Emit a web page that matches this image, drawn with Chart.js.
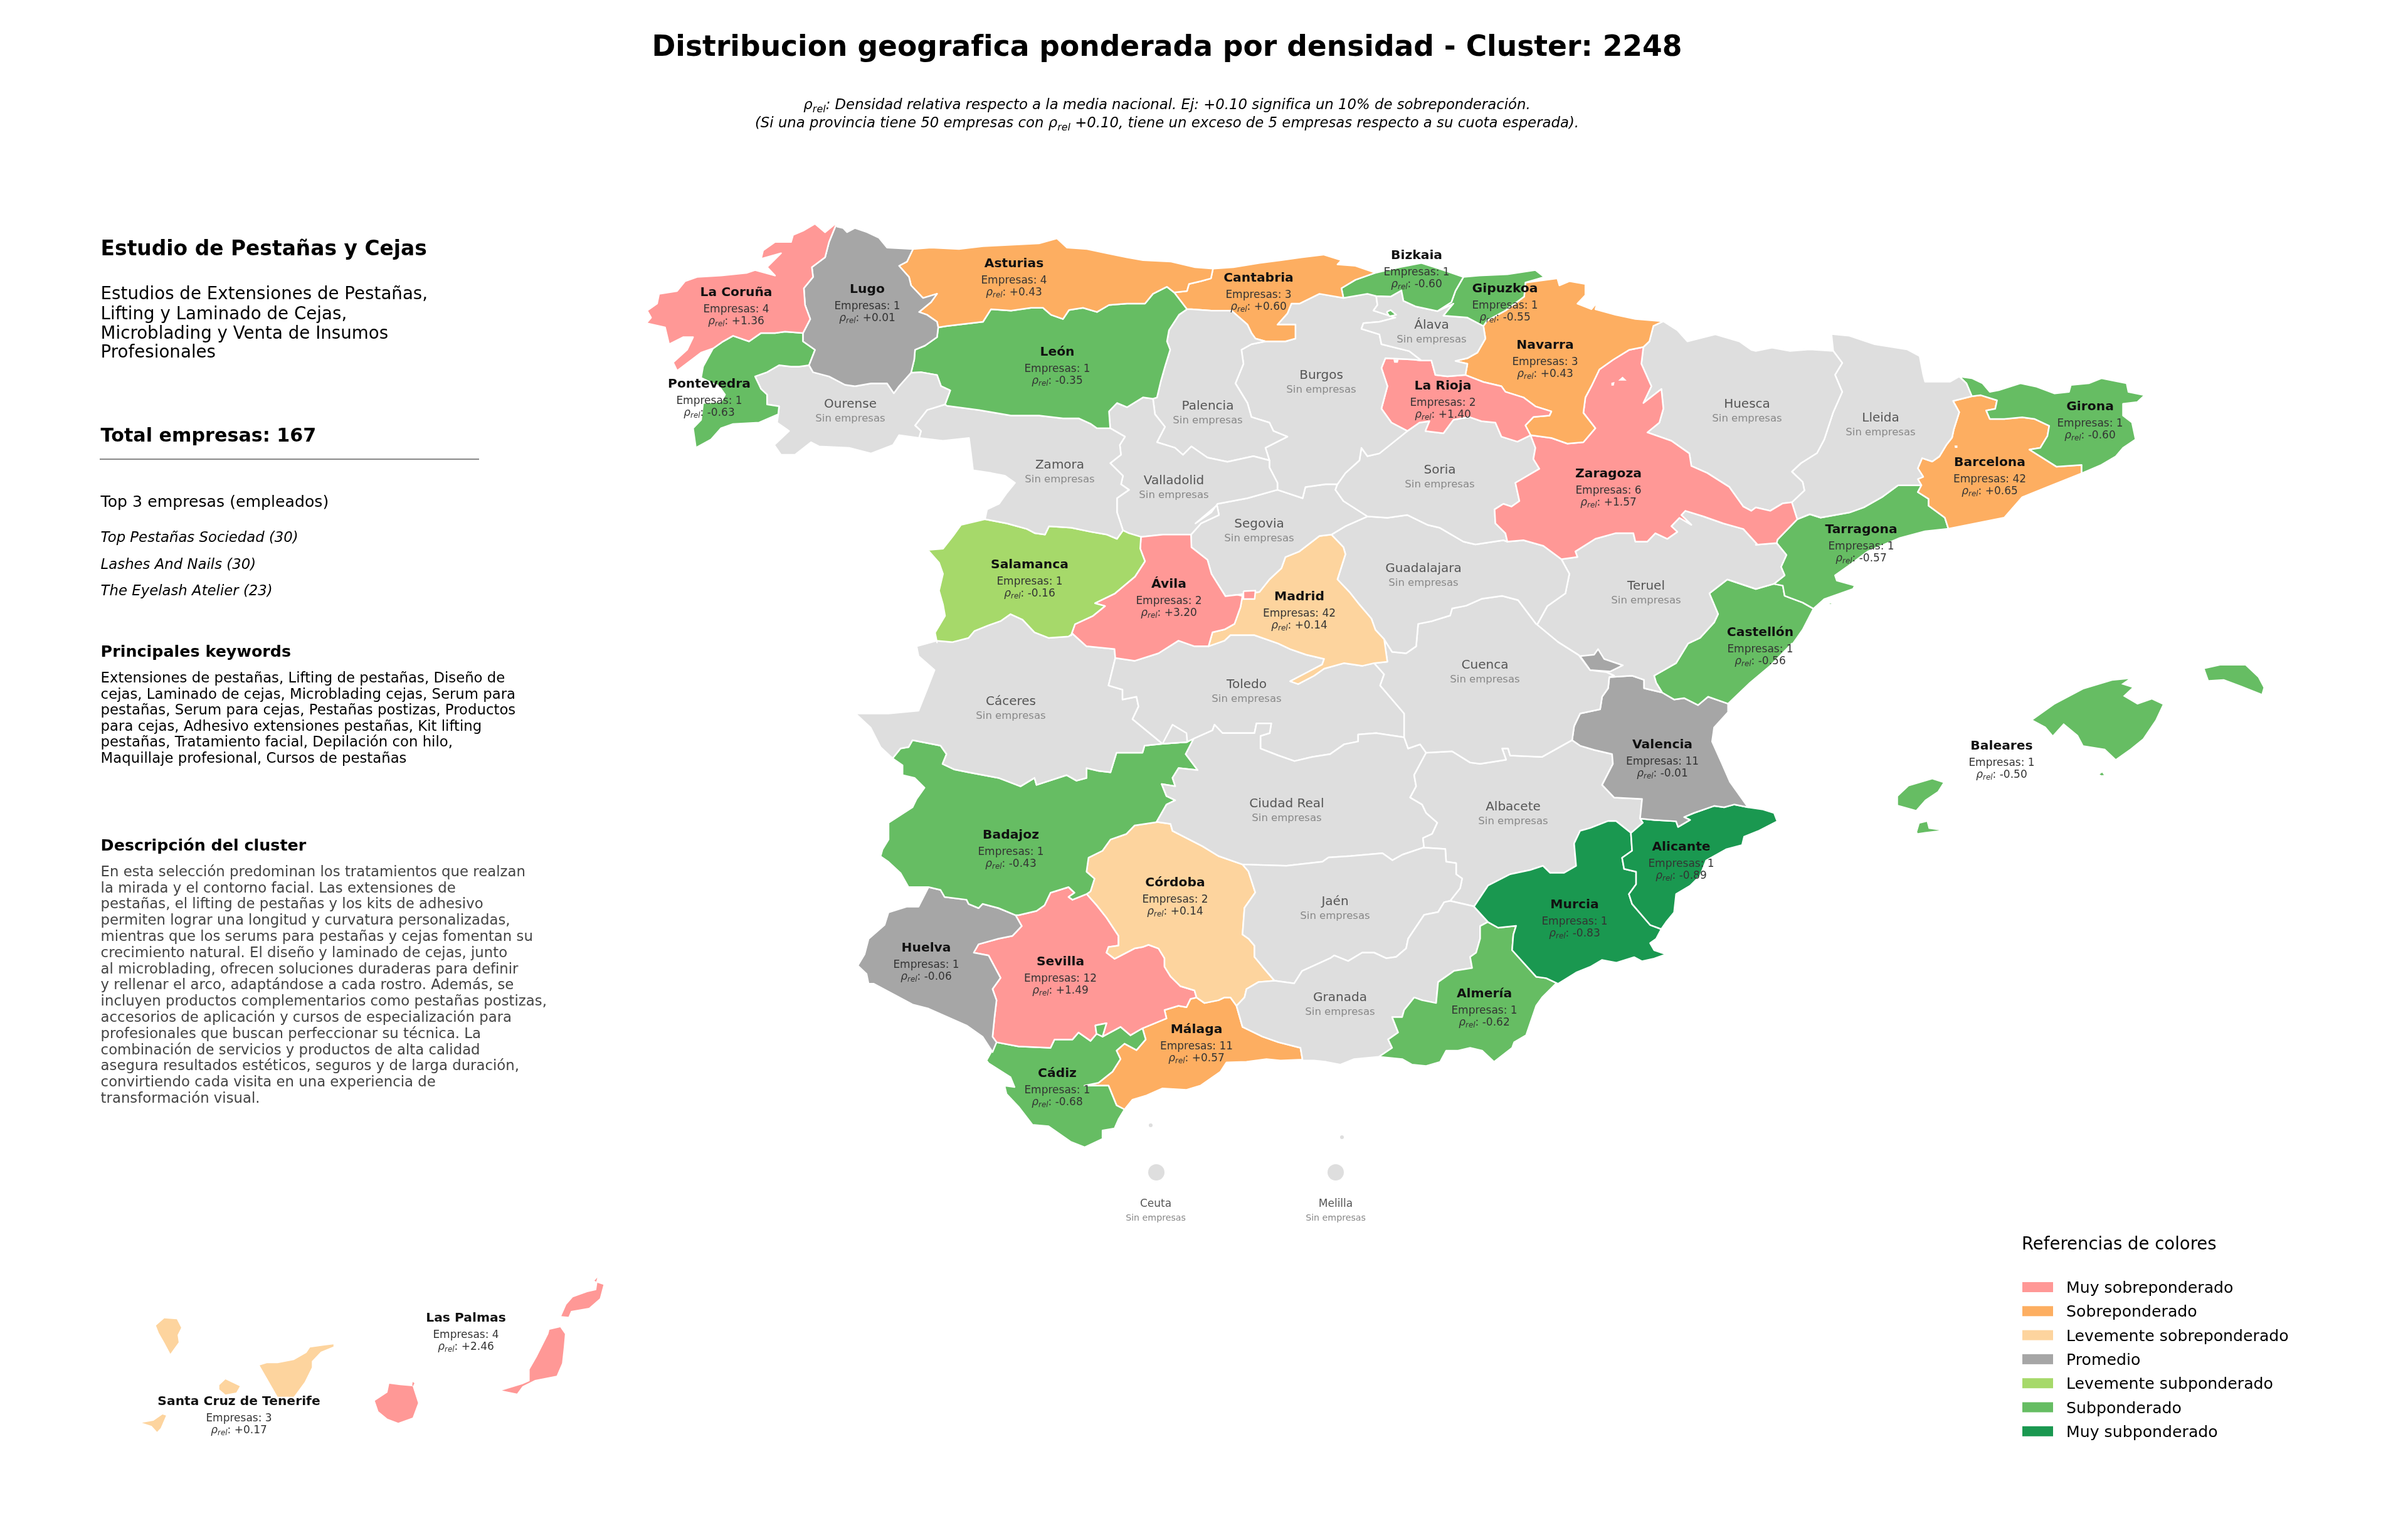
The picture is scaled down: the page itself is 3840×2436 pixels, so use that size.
<!DOCTYPE html>
<html lang="es"><head><meta charset="utf-8"><title>Distribucion geografica</title>
<style>html,body{margin:0;padding:0;background:#fff}canvas{display:block}</style>
<script src="https://cdn.jsdelivr.net/npm/chart.js@4/dist/chart.umd.js"></script></head>
<body><canvas id="map" width="3840" height="2436"></canvas>
<script>
// ---------- chart values ----------
const provinceNames=["La Coruña","Lugo","Asturias","León","Pontevedra","Cantabria","Bizkaia","Gipuzkoa","Navarra","La Rioja","Zaragoza","Girona","Barcelona","Tarragona","Castellón","Valencia","Alicante","Murcia","Almería","Baleares","Salamanca","Ávila","Madrid","Badajoz","Córdoba","Huelva","Sevilla","Málaga","Cádiz","Las Palmas","Santa Cruz de Tenerife"];
const provinceEmpresas=[4,1,4,1,1,3,1,1,3,2,6,1,42,1,1,11,1,1,1,1,1,2,42,1,2,1,12,11,1,4,3];
const provinceRho=["+1.36","+0.01","+0.43","-0.35","-0.63","+0.60","-0.60","-0.55","+0.43","+1.40","+1.57","-0.60","+0.65","-0.57","-0.56","-0.01","-0.89","-0.83","-0.62","-0.50","-0.16","+3.20","+0.14","-0.43","+0.14","-0.06","+1.49","+0.57","-0.68","+2.46","+0.17"];
const provinceClass=[0,3,1,5,5,1,5,5,1,0,0,5,1,5,5,3,6,6,5,5,4,0,2,5,2,3,0,1,5,0,2];
const emptyNames=["Ourense","Palencia","Zamora","Valladolid","Segovia","Álava","Burgos","Soria","Huesca","Lleida","Guadalajara","Teruel","Cáceres","Toledo","Cuenca","Ciudad Real","Albacete","Jaén","Granada","Ceuta","Melilla"];
const legendLabels=["Muy sobreponderado","Sobreponderado","Levemente sobreponderado","Promedio","Levemente subponderado","Subponderado","Muy subponderado"];
const legendColors=["#ff9896","#fdae61","#fdd49e","#a6a6a6","#a6d96a","#66bd63","#1a9850"];
const emptyColor="#dedede";
const titleText="Distribucion geografica ponderada por densidad - Cluster: 2248";
const panelTitle="Estudio de Pestañas y Cejas";
const panelSubtitle=["Estudios de Extensiones de Pestañas,","Lifting y Laminado de Cejas,","Microblading y Venta de Insumos","Profesionales"];
const panelTotal="Total empresas: 167";
const panelTopHead="Top 3 empresas (empleados)";
const panelTop=["Top Pestañas Sociedad (30)","Lashes And Nails (30)","The Eyelash Atelier (23)"];
const keywordsHead="Principales keywords";
const keywordsLines=["Extensiones de pestañas, Lifting de pestañas, Diseño de","cejas, Laminado de cejas, Microblading cejas, Serum para","pestañas, Serum para cejas, Pestañas postizas, Productos","para cejas, Adhesivo extensiones pestañas, Kit lifting","pestañas, Tratamiento facial, Depilación con hilo,","Maquillaje profesional, Cursos de pestañas"];
const descHead="Descripción del cluster";
const descLines=["En esta selección predominan los tratamientos que realzan","la mirada y el contorno facial. Las extensiones de","pestañas, el lifting de pestañas y los kits de adhesivo","permiten lograr una longitud y curvatura personalizadas,","mientras que los serums para pestañas y cejas fomentan su","crecimiento natural. El diseño y laminado de cejas, junto","al microblading, ofrecen soluciones duraderas para definir","y rellenar el arco, adaptándose a cada rostro. Además, se","incluyen productos complementarios como pestañas postizas,","accesorios de aplicación y cursos de especialización para","profesionales que buscan perfeccionar su técnica. La","combinación de servicios y productos de alta calidad","asegura resultados estéticos, seguros y de larga duración,","convirtiendo cada visita en una experiencia de","transformación visual."];

const sheet=(ox,oy,sx,sy)=>f=>{const o=[];for(let i=0;i<f.length;i+=2)o.push([ox+f[i]/sx,oy+f[i+1]/sy]);return o;};
const S1=sheet(1000,330,1.568,2.24),S2=sheet(1900,330,1.568,2.24),S3=sheet(2800,500,1.742,1.845),S4=sheet(1350,950,1.568,2.24),S5=sheet(2000,950,1.568,2.24),S6=sheet(1350,1300,1.568,2.24),S7=sheet(2000,1300,1.568,2.24),S8=sheet(150,2000,1.742,3);
const A={
corCoast:S1([525,55,495,90,470,60,440,85,415,100,410,125,370,125,340,155,335,185,385,165,350,215,370,245,320,225,300,235,235,245,175,250,145,265,125,300,80,310,75,345,50,370,60,395,48,415,95,430,105,490,140,465,165,465,150,510,115,555,125,585,185,520,215,505]),
corPon:S1([215,505,240,480,265,460,305,480,335,450,370,450,395,445,440,450]),
corLug:S1([440,450,458,400,445,350,442,290,465,250,462,215,495,180,505,125,525,55]),
lugCoast:S1([525,55,525,70,540,75,550,90,570,75,600,90,630,110,650,145,715,150]),
lugAst:S1([715,150,700,195,680,210,705,250,710,280,740,325,775,310,760,340,730,375,750,385,775,410,778,430]),
lugLeo:S1([778,430,775,465,745,495,720,510,718,545,710,592]),
lugOur:S1([710,592,680,640,667,665,650,630,610,630,570,640,545,635,505,605,465,590,455,565]),
lugPon:S1([455,565,470,510,440,480,440,450]),
ponOur:S1([455,565,430,570,410,570,380,565,350,590,320,605,335,650,350,670,350,705,380,712,378,740]),
ponCoast:S1([378,740,330,770,265,775,235,790,210,830,172,860,165,790,185,760,190,700,235,695,245,670,230,640,185,610,190,570,215,505]),
ourLeo:S1([710,592,735,590,775,600,785,640,808,655,795,705]),
ourZam:S1([795,705,750,725,720,780,735,800,730,825]),
ourSouth:S1([730,825,680,815,665,850,610,880,555,860,480,855,460,840,420,885,385,885,368,850,405,800,375,770,378,740]),
astCoast:S1([715,150,760,145,830,150,890,140,960,135,1030,130,1075,112,1100,145,1150,150,1200,165,1250,180,1290,190,1360,195,1420,215,1465,220]),
astCan:S1([1465,220,1460,255,1435,265,1405,275,1400,300,1368,305]),
astLeo:S1([1368,305,1350,285,1315,310,1295,345,1250,345,1205,350,1175,375,1140,360,1105,368,1090,400,1060,385,1040,360,1010,360,960,370,910,365,890,410,830,420,800,425,778,430]),
leoCan:S1([1368,305,1400,365]),
leoPal:S1([1400,365,1380,385,1355,440,1350,480,1358,510,1345,570,1335,620,1325,680,1315,685]),
leoVal:S1([1315,685,1290,680,1250,715,1225,700,1205,730,1208,790]),
leoZam:S1([1208,790,1175,790,1160,775,1130,755,1090,755,1030,745,960,745,880,725,800,710,795,705]),
zamPort:S1([730,825,790,835,855,825,860,880,865,940,910,950,945,960,970,985,950,1020,930,1060,900,1080,895,1115]),
zamSal:S1([895,1115,950,1130,1000,1150,1020,1165,1045,1170,1055,1140,1110,1145,1160,1160,1200,1170,1225,1185,1240,1155]),
zamVal:S1([1208,790,1245,820,1232,850,1235,885,1208,915,1240,960,1235,990,1255,1010,1225,1040,1225,1090,1240,1155]),
salVal:S1([1240,1155,1255,1165,1285,1178]),
salAvi:S1([1285,1178,1283,1220,1295,1265,1270,1320,1220,1380,1170,1415,1195,1425,1165,1460,1120,1490,1110,1530]),
salCac:S4([565,135,555,145,505,150,470,130,440,85,410,65,385,90,355,105,320,125,305,150,265,165,225,160]),
zsPort:S1([895,1115,835,1135,815,1175,790,1220,752,1225,780,1270,790,1310,780,1370,790,1420,795,1460,770,1520,775,1555]),
aviVal:S1([1285,1178,1340,1170,1410,1170]),
aviSeg:S2([0,1215,40,1260,50,1310,85,1390,115,1385]),
aviMad:[...S2([115,1385]),...S4([990,0,985,40,970,100,945,120,915,130,905,180])],
aviTol:S4([905,180,870,180,830,160,780,205,720,232,672,222]),
aviCac:S4([672,222,670,190,600,180,565,135]),
valPal:[...S1([1315,685,1320,740,1345,785,1325,840,1370,860,1390,885]),...S2([0,855,40,895,90,910,155,890,195,905])],
valBur:S2([195,905,195,930,215,985,215,1010]),
valSeg:[...S2([215,1010,140,1040,65,1060,50,1090,10,1130]),...S1([1475,1065,1480,1100,1435,1130,1410,1170])],
palCan:[...S1([1400,365]),...S2([0,365,50,370,100,370,140,420,150,450,160,470,185,480])],
palBur:S2([185,480,150,490,125,510,130,560,110,630,140,700,150,750,195,770,205,800,240,820,185,860,195,905]),
canCoast:S2([55,220,105,215,170,200,225,190,275,180,330,170,375,190,365,205,410,210,460,235]),
canBiz:S2([460,235,410,260,375,290,380,325]),
canBur:S2([380,325,320,310,270,345,250,345,240,380,215,420,260,420,260,470,235,480,185,480]),
bizCoast:S2([460,235,520,215,575,200,630,225,680,250]),
bizGip:S2([680,250,660,300,650,340,615,372]),
bizAla:S2([615,372,560,355,530,335,525,298,498,320,462,318]),
bizBur:S2([462,318,440,310,380,325]),
gipCoast:S2([680,250,720,245,790,240,860,225,882,250,835,270]),
gipNav:S2([835,270,832,320,785,370,740,405,730,425]),
gipAla:S2([730,425,690,395,630,388,655,345,615,372]),
alaNav:S2([730,425,735,470,715,520,690,540,660,550,690,560,685,600]),
alaRio:S2([685,600,640,605,610,600,600,548,575,548]),
alaBur:S2([575,548,545,515,475,490,470,455,425,435,430,415,470,410,510,395,455,370,465,350,462,318]),
burRio:S2([575,548,555,545,485,540,475,575,490,640,475,720,500,770,540,800]),
burSor:S2([540,800,470,880,440,890,425,860,420,905,385,950,365,990]),
burSeg:S2([365,990,335,990,285,1000,278,1040,215,1010]),
rioSor:S2([540,800,570,770,595,765,585,800,630,808,655,760,695,750,725,765,760,770,775,820,815,838,848,815]),
rioNav:S2([685,600,730,625,775,640,785,660,830,680,860,712,900,730,895,745,855,750,835,780,848,815]),
navCoast:S2([835,270,915,255,920,280,945,265,985,275,985,315,965,345,1000,365,1015,340,1010,365,1060,385,1110,400,1180,408]),
navHue:S2([1180,408,1155,425,1145,480,1130,500]),
navZar:S2([848,815,900,825,940,845,980,840,1010,790,980,735,985,680,1000,640,1020,580,1055,545,1095,510,1130,500]),
zarHue:[...S2([1130,500,1125,560,1150,640,1130,700,1175,650,1180,720,1170,770,1140,805,1200,835,1245,880,1250,925,1290,950,1345,1000,1380,1070,1400,1085]),...S3([0,570,40,580,75,558,100,555])],
zarLle:S3([100,555,115,605]),
zarTar:S3([115,605,60,665,58,675]),
zarTer:[...S3([58,675,0,680]),...S2([1415,1205,1380,1150,1330,1130,1280,1105,1235,1085,1225,1100,1250,1135,1220,1110,1200,1140,1215,1160,1190,1185,1160,1165,1140,1195,1110,1195,1105,1165,1060,1165,1010,1185,960,1230,965,1250,925,1258])],
zarGua:S2([925,1258,880,1210,830,1190,790,1195]),
zarSor:S2([790,1195,785,1165,760,1130,758,1080,780,1060,800,1070,820,1050,810,985,870,935,855,900,860,860,848,815]),
sorSeg:S2([365,990,360,1010,380,1050,440,1105]),
sorGua:S2([440,1105,490,1110,540,1100,590,1135,620,1145,680,1195,710,1205,780,1190,790,1195]),
segMad:S2([115,1385,170,1375,195,1330,225,1290,235,1250,270,1230,320,1175,350,1170]),
segGua:S2([350,1170,385,1140,440,1105]),
madGua:[...S2([350,1170,380,1215,385,1240,365,1330,395,1375,420,1420,450,1470,460,1510]),...S5([325,155])],
madCue:S5([325,155,333,235,300,240]),
madTol:[...S5([300,240,270,250,225,240,175,260,150,285,110,315,90,305,130,275,170,245,175,225,130,210,90,190,60,170,0,140]),...S4([960,140,945,160,905,180])],
guaCue:S5([325,155,345,200,380,205,405,180,410,100,445,90,490,70,495,45,530,35,570,10,620,0,660,15,705,100]),
guaTer:[...S2([925,1258,945,1310,935,1380,890,1425,865,1490])],
cueTer:S5([705,100,760,165,812,212,840,265,880,272,900,285,888,290]),
cueVal:S5([888,290,885,330,870,360,865,405,815,420,800,465,795,515]),
cueAlb:S5([795,515,720,575,640,570,635,545,620,545,630,585,565,600,540,595,495,555,430,560]),
cueCR:S5([430,560,415,530,385,545,375,505]),
cueTol:S5([375,505,375,420,315,320,325,280,300,240]),
terVal:S5([888,290,945,285,975,300,975,330,1020,345]),
terCas:[...S5([1020,345,1005,310,1000,285,1055,240,1085,170,1115,150,1150,95,1160,65]),...S2([1295,1380,1340,1330]),...S3([0,810,50,795])],
terTar:S3([50,795,80,770,70,745,85,710,58,675]),
hueCoast:[...S2([1180,408,1215,440,1240,480,1310,455,1370,480,1400,510]),...S3([0,110,45,100,95,110,150,105,215,110])],
hueLle:S3([215,110,240,145,220,180,240,230,215,290,190,370,170,410,125,440,100,465,130,495,135,520,100,555]),
lleCoast:S3([215,110,210,60,260,65,330,90,420,105,455,125,465,180,470,200,540,200,565,185]),
lleGir:S3([565,185,585,205,600,243]),
lleBar:S3([600,243,548,257,565,290,550,340,545,365,530,385,510,420,490,435,462,425,450,455,465,480,450,487,460,505]),
lleTar:S3([460,505,395,505,350,540,300,570,260,585,180,600,150,590,115,605]),
girOut:S3([565,185,600,190,630,205,650,230,675,225,735,205,780,215,830,235,870,230,875,210,925,205,960,190,1030,205,1035,230,1080,240,1060,260,1020,265,1020,300,1045,320,1055,370,1020,395,1000,420,960,445,905,470]),
girBar:S3([905,470,905,445,835,450,790,420,760,400,790,395,810,360,815,330,775,310,740,305,690,310,650,310,640,285,665,280,670,255,625,240,600,243]),
barCoast:S3([535,633,690,600,740,540,810,510,905,470]),
barTar:S3([460,505,450,525,480,545,480,565,525,600,535,633]),
tarCoast:S3([160,868,190,840,270,810,275,800,225,785,220,770,260,740,310,700,400,660,470,640,535,633]),
tarCas:S3([50,795,75,800,80,830,130,850,160,868]),
casCoast:[...S3([160,868,130,930,100,975]),...S5([1345,170,1290,250,1240,310,1185,385])],
casVal:S5([1020,345,1050,370,1075,365,1110,390,1135,360,1185,385]),
valCoast:S5([1185,385,1185,415,1150,470,1145,520,1170,600,1190,665,1235,755]),
valAli:S5([965,795,1000,800,1055,805,1060,825,1090,800,1075,790,1100,775,1150,750,1175,755,1200,745,1235,755]),
valAlb:S5([795,515,815,535,850,550,895,565,897,600,870,675,900,720,970,725,965,795]),
aliCoast:S5([1235,755,1270,762,1300,775,1308,805,1260,840,1225,860,1220,890,1180,905,1130,945,1115,1000,1090,1035,1055,1065,1050,1130,1030,1165,1018,1190]),
aliMur:S5([942,847,945,910,920,935,925,975,955,985,955,1030,937,1065,945,1100,990,1175,1018,1190]),
aliAlb:S5([942,847,972,810,965,795]),
murCoast:S5([1018,1190,1005,1225,990,1240,1000,1265,1030,1280,1000,1295,970,1305,950,1290,905,1310,870,1300,840,1325,805,1345,760,1385]),
murAlm:S5([585,1165,610,1185,655,1178,648,1210,645,1265,705,1360,730,1365,760,1385]),
murGra:S5([550,1110,585,1165]),
murAlb:S7([550,325,585,250,640,210,690,195,722,180,740,205,775,205,805,180,800,100,815,55,840,45,885,20,905,20,940,60,942,62]),
almCoast:S7([755,600,720,650,705,680,680,785,650,810,645,830,600,880,570,840,540,830,510,840,480,840,465,880,430,895,395,890,370,870,312,862]),
almGra:S7([585,380,565,395,565,440,555,490,540,505,545,545,500,555,460,595,455,670,420,660,400,650,375,695,370,720,345,720,360,775,335,800,345,830,312,862]),
graCoast:S7([312,862,250,870,215,890,180,880,150,875,122,875]),
graMal:S6([975,680,990,755,1040,790,1080,810,1135,830,1140,872]),
graCor:S6([975,680,995,650,1000,620,1030,595,1070,590]),
graJae:[...S7([51,590,100,600,120,555,190,510,200,500,235,520,270,490,300,490,330,510,355,505,380,475,385,440,425,355,460,345,475,310,490,305])],
graAlb:S7([490,305,550,325]),
jaeAlb:S7([423,115,478,120,480,165,505,170,505,210,520,225,515,260,490,305]),
jaeCR:S6([990,175,1100,180,1190,165,1205,150,1260,145,1300,140,1340,135,1365,160,1390,140,1442,115]),
jaeCor:S6([1070,590,1040,540,1020,505,1020,465,1005,440,990,425,995,330,1022,275,1005,200,990,175]),
albCR:S5([430,560,400,640,405,680,390,720,420,745,430,775,458,810,445,850,422,865,425,900]),
crTol:[...S4([868,510,915,480,920,460,940,490,1020,490,1025,455,1062,455,1058,490,1035,500,1035,545,1080,570,1120,590]),...S5([145,575,190,565,225,530,260,520,260,495,305,490,375,505])],
crBad:S4([868,510,848,565,878,622,830,615,815,650,822,680,788,672,800,715,822,730,800,745,775,808]),
crCor:S6([990,175,930,145,890,110,815,55,810,30,775,23]),
tolCac:S4([672,222,655,320,690,335,690,370,725,360,730,395,715,440,790,528]),
tolBad:S4([790,528,850,522,868,510]),
cacPort:S4([225,160,175,180,180,215,220,265,205,320,180,410,105,420,22,420,60,470,85,540,115,580]),
cacBad:S4([115,580,135,545,155,540,165,515,235,535,250,565,240,600,270,620,305,630,380,650,435,680,470,650,475,675,550,640,575,660,600,650,600,615,630,625,660,630,675,560,740,560,745,535,790,528]),
badPort:S4([115,580,140,605,140,640,170,650,195,685,175,725,165,755,105,810,105,870,90,905,85,930,105,950,135,990,155,1040,205,1040]),
badHue:S4([205,1040,235,1050,245,1075,300,1085,305,1100,330,1115,340,1100,380,1115,422,1140]),
badSev:S4([422,1140,430,1140,475,1125,495,1105,510,1060,555,1040,570,1060,555,1075,565,1085,600,1065]),
badCor:S4([600,1065,610,1055,620,1010,600,985,605,935,640,910,660,870,700,850,720,820,775,808]),
corSev:S6([600,280,625,320,650,365,680,430,680,465,655,470,650,490,670,512,720,475,740,470,755,462,780,475,795,510,795,540,810,575,835,610,870,625,875,650]),
corMal:S6([875,650,895,670,930,660,945,650,960,650,975,680]),
hueCoastal:[...S4([205,1040,180,1110,150,1110,105,1130,95,1175,55,1225,45,1280,28,1320,50,1350,55,1385,68,1385]),...S6([165,675,205,690,300,750,340,790,365,845,375,810])],
hueSev:S6([422,355,438,395,415,430,380,440,330,460,318,490,355,500,385,580,365,620,375,660,370,720,365,790,375,810]),
sevCad:S6([375,810,430,825,510,830,520,800,565,800,580,775,610,805,625,780,622,750,650,742,640,790,685,755,710,785,740,760]),
sevMal:S6([740,760,800,725,795,695,830,680,850,685,860,655,875,650]),
cadMal:S6([740,760,748,800,725,838,695,815,675,840,685,870,665,915,630,955,595,965,630,965,655,965,675,1035,695,1050]),
cadCoast:S6([695,1050,680,1085,670,1118,640,1125,640,1155,595,1185,560,1165,505,1110,465,1105,430,1040,400,995,395,965,420,970,410,935,355,885,350,875,375,810]),
malCoast:S6([1140,872,1085,875,1050,870,1000,880,950,882,935,915,885,965,850,980,790,975,750,1000,715,1015,695,1050]),
};
const ringOf=s=>s.split(" ").flatMap(k=>k[0]==="-"?[...A[k.slice(1)]].reverse():A[k]);
const provinceRings={
"La Coruña":["corCoast corPon corLug"],
"Lugo":["lugCoast lugAst lugLeo lugOur lugPon corLug"],
"Pontevedra":["ponOur ponCoast corPon -lugPon"],
"Ourense":["-lugOur ourLeo ourZam ourSouth -ponOur"],
"Asturias":["astCoast astCan astLeo -lugAst"],
"León":["leoCan leoPal leoVal leoZam -ourLeo -lugLeo -astLeo"],
"Zamora":["ourZam zamPort zamSal -zamVal leoZam"],
"Salamanca":["zamSal salVal salAvi salCac -zsPort"],
"Ávila":["aviVal aviSeg aviMad aviTol aviCac -salAvi"],
"Valladolid":["-leoVal valPal valBur valSeg -aviVal -salVal -zamVal"],
"Palencia":["palCan palBur -valPal -leoPal"],
"Cantabria":["canCoast canBiz canBur -palCan -leoCan -astCan"],
"Bizkaia":["bizCoast bizGip bizAla bizBur -canBiz"],
"Gipuzkoa":["gipCoast gipNav gipAla -bizGip"],
"Álava":["alaNav alaRio alaBur -bizAla -gipAla"],
"Burgos":["canBur palBur valBur -burSeg -burSor -burRio alaBur bizBur"],
"La Rioja":["-alaRio rioNav -rioSor -burRio"],
"Navarra":["navCoast navHue -navZar -rioNav -alaNav -gipNav"],
"Zaragoza":["navZar zarHue zarLle zarTar zarTer zarGua zarSor"],
"Soria":["burSor sorSeg sorGua zarSor -rioSor"],
"Segovia":["valSeg aviSeg segMad segGua -sorSeg burSeg"],
"Madrid":["segMad madGua madCue madTol -aviMad"],
"Guadalajara":["madGua guaCue -guaTer zarGua -sorGua -segGua"],
"Cuenca":["guaCue cueTer cueVal cueAlb cueCR cueTol -madCue"],
"Teruel":["guaTer cueTer terVal terCas terTar zarTer"],
"Huesca":["hueCoast hueLle -zarHue -navHue"],
"Lleida":["lleCoast lleGir lleBar lleTar -zarLle -hueLle"],
"Girona":["girOut girBar -lleGir"],
"Barcelona":["lleBar barTar barCoast girBar"],
"Tarragona":["zarTar -terTar tarCas tarCoast -barTar lleTar"],
"Castellón":["terCas tarCas casCoast -casVal"],
"Valencia":["cueVal valAlb valAli -valCoast -casVal -terVal"],
"Alicante":["aliAlb valAli aliCoast -aliMur"],
"Murcia":["murAlb aliMur murCoast -murAlm -murGra"],
"Almería":["murAlm almCoast -almGra"],
"Granada":["graJae graAlb murGra almGra graCoast -graMal graCor"],
"Jaén":["jaeCor jaeCR jaeAlb -graJae"],
"Albacete":["valAlb -aliAlb -murAlb -graAlb -jaeAlb -albCR -cueAlb"],
"Ciudad Real":["crTol -cueCR albCR -jaeCR crCor -crBad"],
"Toledo":["aviTol tolCac tolBad crTol cueTol madTol"],
"Cáceres":["salCac cacPort cacBad -tolCac aviCac"],
"Badajoz":["cacBad tolBad crBad -badCor -badSev -badHue -badPort"],
"Córdoba":["-badCor corSev corMal graCor jaeCor crCor"],
"Huelva":["hueCoastal -hueSev -badHue"],
"Sevilla":["hueSev sevCad sevMal -corSev -badSev"],
"Cádiz":["sevCad cadMal cadCoast"],
"Málaga":["sevMal corMal graMal malCoast -cadMal"],
};
const islandRings={
"Baleares":[
S3([770,1195,830,1150,910,1105,990,1080,1035,1075,1015,1090,1045,1100,1020,1125,1060,1150,1100,1135,1130,1150,1110,1195,1075,1250,1040,1280,1000,1310,970,1280,910,1270,895,1240,855,1205,825,1240,805,1215]),
S3([1247,1045,1290,1035,1360,1035,1395,1070,1410,1100,1405,1118,1350,1095,1300,1075,1258,1078]),
S3([395,1420,425,1390,490,1370,520,1380,505,1405,470,1430,445,1460,395,1445]),
S3([448,1525,455,1500,475,1495,480,1515,510,1520,470,1525,450,1528]),
S3([955,1355,962,1350,967,1357,960,1358])],
"Santa Cruz de Tenerife":[
S8([172,340,195,305,230,310,242,350,232,385,235,420,212,475,195,420,180,375]),
S8([460,530,480,520,510,520,555,505,590,470,600,445,640,435,665,430,665,440,630,465,605,510,605,540,585,610,555,680,510,680,480,590]),
S8([348,625,365,597,405,630,395,660,365,670,348,645]),
S8([133,805,165,795,190,765,200,770,185,830,175,848,160,820])],
"Las Palmas":[
S8([780,700,815,660,820,618,850,625,885,630,900,710,885,780,845,805,815,785,790,750]),
S8([885,610,890,615,886,630,884,625]),
S8([1133,650,1190,620,1210,605,1210,550,1230,490,1262,380,1265,360,1295,348,1308,380,1305,440,1300,520,1285,580,1225,600,1190,630,1175,665]),
S8([1298,295,1312,240,1330,205,1370,180,1395,170,1398,135,1415,145,1405,210,1375,255,1325,270,1318,298]),
S8([1390,125,1398,110,1395,130])],
};
// small enclaves drawn above the provinces that surround them: [province, outline]
const enclaves=[
["Valencia",S5([815,215,850,210,860,190,875,225,922,248,890,270,840,265])],
["Ávila",S2([130,1372,160,1370,158,1400,130,1400])],
["Bizkaia",S2([488,375,498,368,512,385,495,390])],
["Toledo",S4([790,528,815,460,850,490,852,522])],
["Tarragona",S3([192,855,215,848,210,856])],
["Cádiz",S6([622,750,650,742,640,790,625,780])],
];
const enclaveHoles=[S2([1050,628,1058,625,1056,638,1049,638]),S2([1067,620,1078,606,1088,620]),S3([552,388,560,388,560,395,553,395]),S2([505,545,518,545,516,556,507,556])];
// dots standing for the two autonomous cities, plus their tiny true outlines
const cityDots=[[1844,1869],[2130,1869]];
const cityTiny=[[1835,1794],[2140,1813]];
// label anchors in map units: name -> [x,y]
const anchors={"La Coruña":[1174,465],"Lugo":[1383,460],"Asturias":[1617,419],"León":[1686,560],"Pontevedra":[1131,611],"Ourense":[1356,643],"Palencia":[1926,646],"Zamora":[1690,740],"Valladolid":[1872,765],"Segovia":[2008,834],"Salamanca":[1642,899],"Ávila":[1864,930],"Cantabria":[2007,442],"Bizkaia":[2259,406],"Gipuzkoa":[2400,459],"Álava":[2283,517],"Navarra":[2464,549],"Burgos":[2107,597],"La Rioja":[2301,614],"Soria":[2296,748],"Huesca":[2786,643],"Zaragoza":[2565,754],"Guadalajara":[2270,905],"Teruel":[2625,933],"Madrid":[2072,950],"Lleida":[2999,665],"Girona":[3333,647],"Barcelona":[3173,736],"Tarragona":[2968,843],"Castellón":[2807,1007],"Baleares":[3192,1188],"Cáceres":[1612,1117],"Toledo":[1988,1090],"Cuenca":[2368,1059],"Valencia":[2651,1186],"Ciudad Real":[2052,1280],"Albacete":[2413,1285],"Badajoz":[1612,1330],"Córdoba":[1874,1406],"Jaén":[2129,1436],"Huelva":[1477,1510],"Sevilla":[1691,1532],"Alicante":[2681,1349],"Murcia":[2511,1441],"Granada":[2137,1589],"Almería":[2367,1583],"Málaga":[1908,1640],"Cádiz":[1686,1710],"Ceuta":[1843,1917],"Melilla":[2130,1917],"Las Palmas":[743,2100],"Santa Cruz de Tenerife":[381,2233]};

// ---------- build ----------
const colorOf=n=>{const i=provinceNames.indexOf(n);return i<0?emptyColor:legendColors[provinceClass[i]];};
const poly=(label,pts,color)=>({label,data:pts.map(([x,y])=>({x,y})).concat([{x:pts[0][0],y:pts[0][1]}]),showLine:true,fill:"shape",backgroundColor:color,borderColor:"#ffffff",borderWidth:2.5,pointRadius:0,tension:0,borderJoinStyle:"round"});
const datasets=[];
enclaveHoles.forEach((r,i)=>{const d=poly("hueco"+i,r,"#ffffff");d.borderWidth=0;datasets.push(d);});
enclaves.forEach(([n,r])=>datasets.push(poly(n,r,colorOf(n))));
for(const n in provinceRings)provinceRings[n].forEach(r=>datasets.push(poly(n,ringOf(r),colorOf(n))));
for(const n in islandRings)islandRings[n].forEach(r=>{const d=poly(n,r,colorOf(n));d.borderWidth=0;datasets.push(d);});
datasets.push({label:"Ceuta y Melilla",data:cityDots.map(([x,y])=>({x,y})),showLine:false,pointRadius:13,pointBackgroundColor:emptyColor,pointBorderWidth:0});
datasets.push({label:"Ceuta y Melilla (contorno)",data:cityTiny.map(([x,y])=>({x,y})),showLine:false,pointRadius:3,pointBackgroundColor:emptyColor,pointBorderWidth:0});

const FF='"DejaVu Sans"';
const textPlugin={id:"mapText",afterDatasetsDraw(chart){
  const c=chart.ctx,X=v=>chart.scales.x.getPixelForValue(v),Y=v=>chart.scales.y.getPixelForValue(v);
  const put=(t,x,y,font,color,align="left")=>{c.font=font;c.fillStyle=color;c.textAlign=align;c.textBaseline="alphabetic";c.fillText(t,X(x),Y(y));};
  // mixed run of text with italic rho and subscript
  const rich=(segs,cx,y,size,color,allItalic)=>{
    const fontOf=s=>`${(s.it||allItalic)?"italic ":""}${s.sub?size*.7:size}px ${FF}`;
    let w=0;segs.forEach(s=>{c.font=fontOf(s);w+=c.measureText(s.t).width;});
    let x=X(cx)-w/2;c.textAlign="left";c.textBaseline="alphabetic";c.fillStyle=color;
    segs.forEach(s=>{c.font=fontOf(s);c.fillText(s.t,x,Y(y)+(s.sub?size*.2:0));x+=c.measureText(s.t).width;});
  };
  const rho=[{t:"ρ",it:1},{t:"rel",it:1,sub:1}];
  put(titleText,1861,89,`bold 45.6px ${FF}`,"#000","center");
  rich([...rho,{t:": Densidad relativa respecto a la media nacional. Ej: +0.10 significa un 10% de sobreponderación."}],1861,174,22.8,"#000",true);
  rich([{t:"(Si una provincia tiene 50 empresas con "},...rho,{t:" +0.10, tiene un exceso de 5 empresas respecto a su cuota esperada)."}],1861,203,22.8,"#000",true);
  // left panel
  const L=160.6;
  put(panelTitle,L,407,`bold 32.9px ${FF}`,"#000");
  [477,508.5,539.5,570].forEach((y,i)=>put(panelSubtitle[i],L,y,`27.7px ${FF}`,"#000"));
  put(panelTotal,L,704,`bold 30.2px ${FF}`,"#000");
  c.strokeStyle="#888";c.lineWidth=2;c.beginPath();c.moveTo(X(159),Y(732));c.lineTo(X(764),Y(732));c.stroke();
  put(panelTopHead,L,807.5,`25.2px ${FF}`,"#000");
  [864,907,949].forEach((y,i)=>put(panelTop[i],L,y,`italic 22.8px ${FF}`,"#000"));
  put(keywordsHead,L,1047,`bold 25.4px ${FF}`,"#000");
  keywordsLines.forEach((t,i)=>put(t,L,1088+i*25.6,`22.8px ${FF}`,"#000"));
  put(descHead,L,1356,`bold 25.4px ${FF}`,"#000");
  descLines.forEach((t,i)=>put(t,L,1396.7+i*25.8,`22.8px ${FF}`,"#444"));
  // province labels
  provinceNames.forEach((n,i)=>{const [x,y]=anchors[n];
    put(n,x,y+7,`bold 20.3px ${FF}`,"#111","center");
    put("Empresas: "+provinceEmpresas[i],x,y+33,`17px ${FF}`,"#333","center");
    rich([...rho,{t:": "+provinceRho[i]}],x,y+52,17,"#333");
  });
  emptyNames.forEach(n=>{const [x,y]=anchors[n];const small=n==="Ceuta"||n==="Melilla";
    put(n,x,y+7,`${small?17:20}px ${FF}`,"#555","center");
    put("Sin empresas",x,y+29,`${small?14.2:16.5}px ${FF}`,"#888","center");
  });
  // colour key
  put("Referencias de colores",3224,1992,`27.5px ${FF}`,"#000");
  legendLabels.forEach((t,i)=>{const y=2052+i*38.3;
    c.fillStyle=legendColors[i];c.fillRect(X(3225),Y(y-8),49,16);
    put(t,3295,y+9,`25.2px ${FF}`,"#000");
  });
}};
new Chart(document.getElementById("map"),{type:"scatter",data:{datasets},plugins:[textPlugin],options:{responsive:false,devicePixelRatio:1,animation:false,layout:{padding:0,autoPadding:false},
  plugins:{legend:{display:false},tooltip:{enabled:false},title:{display:false}},
  elements:{line:{tension:0}},
  scales:{x:{type:"linear",min:0,max:3840,display:false},y:{type:"linear",min:0,max:2436,reverse:true,display:false}}}});
</script></body></html>
